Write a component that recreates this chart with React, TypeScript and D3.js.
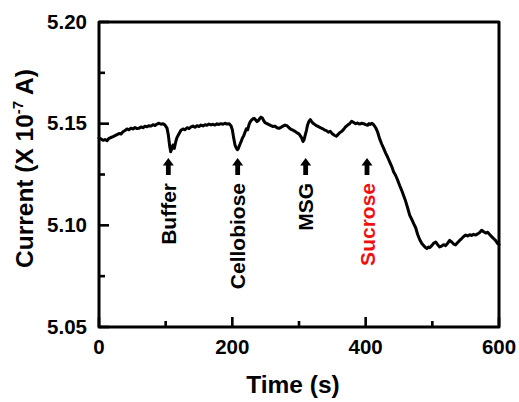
import React from "react";
import * as d3 from "d3";

// ---- Data ----
const times = [
  0, 3, 6, 9, 12, 15, 18, 21, 24, 27, 30, 33, 36, 39, 42, 45, 48, 51, 54, 57,
  60, 63, 66, 69, 72, 75, 78, 81, 84, 87, 90, 93, 96, 99, 102, 104, 106, 107.5, 109, 111,
  113, 115, 117, 120, 123, 126, 129, 132, 135, 138, 141, 144, 147, 150, 153, 156, 159, 162, 165, 168,
  171, 174, 177, 180, 183, 186, 189, 192, 195, 198, 200, 202, 204, 206, 207.5, 209, 211, 213, 215, 217,
  219, 221, 223, 225, 227, 229, 231, 233, 235, 237, 239, 241, 243, 245, 247, 249, 252, 255, 258, 261,
  264, 267, 270, 273, 276, 279, 282, 285, 288, 291, 294, 297, 300, 302, 304, 306, 307.5, 309, 311, 313,
  315, 317, 319, 321, 323, 326, 329, 332, 335, 338, 341, 344, 347, 350, 353, 356, 358, 361, 364, 367,
  370, 373, 376, 379, 382, 385, 388, 391, 394, 397, 400, 403, 405, 407, 409, 411, 413, 415, 418, 421,
  424, 427, 430, 433, 436, 439, 442, 445, 448, 451, 454, 457, 460, 463, 466, 469, 472, 475, 478, 481,
  484, 487, 490, 492, 494, 496, 499, 502, 505, 508, 511, 514, 517, 520, 523, 526, 529, 532, 535, 538,
  541, 544, 547, 550, 553, 556, 559, 562, 565, 568, 571, 574, 577, 580, 583, 586, 589, 592, 595, 598,
  600,
];

const currents = [
  5.143, 5.1425, 5.1418, 5.1422, 5.1416, 5.1428, 5.1432, 5.1436, 5.1441, 5.1446, 5.1452, 5.1449, 5.146, 5.1466, 5.1474, 5.147, 5.1478, 5.1474, 5.1481, 5.1476,
  5.1477, 5.1484, 5.148, 5.1487, 5.1485, 5.149, 5.1488, 5.1495, 5.1491, 5.1498, 5.1502, 5.1497, 5.15, 5.1493, 5.1478, 5.1445, 5.139, 5.1362, 5.1375, 5.1395,
  5.1378, 5.141, 5.1432, 5.145, 5.1468, 5.1474, 5.147, 5.148, 5.1476, 5.1484, 5.1488, 5.1482, 5.149, 5.1486, 5.1493, 5.1489, 5.1495, 5.1492, 5.1498, 5.1494,
  5.1497, 5.1493, 5.1499, 5.1496, 5.15, 5.1497, 5.1502, 5.1498, 5.15, 5.149, 5.147, 5.143, 5.1395, 5.138, 5.1372, 5.1378, 5.1395, 5.141, 5.1428, 5.144,
  5.1458, 5.1475, 5.147, 5.1495, 5.151, 5.1518, 5.1524, 5.1526, 5.1518, 5.151, 5.1515, 5.1525, 5.1532, 5.1528, 5.1515, 5.1505, 5.15, 5.1495, 5.149, 5.1486,
  5.1488, 5.148, 5.1477, 5.1482, 5.1488, 5.1493, 5.149, 5.148, 5.1472, 5.1468, 5.1462, 5.1455, 5.145, 5.144, 5.143, 5.1412, 5.142, 5.144, 5.1465, 5.1495,
  5.1512, 5.152, 5.151, 5.1502, 5.1498, 5.149, 5.1486, 5.148, 5.1476, 5.147, 5.1466, 5.1458, 5.1462, 5.145, 5.1443, 5.1438, 5.1445, 5.1455, 5.1462, 5.1472,
  5.1485, 5.1493, 5.15, 5.1512, 5.1506, 5.15, 5.1503, 5.1498, 5.1502, 5.15, 5.1495, 5.1492, 5.15, 5.1496, 5.1502, 5.1498, 5.149, 5.148, 5.1458, 5.1425,
  5.14, 5.1378, 5.1355, 5.1335, 5.1312, 5.129, 5.1262, 5.1245, 5.1222, 5.1196, 5.1172, 5.1145, 5.1118, 5.1085, 5.105, 5.103, 5.1008, 5.0988, 5.0955, 5.093,
  5.0912, 5.09, 5.089, 5.0886, 5.0893, 5.089, 5.09, 5.0912, 5.0918, 5.0905, 5.0894, 5.0898, 5.0905, 5.09, 5.0912, 5.0926, 5.0918, 5.0908, 5.0904, 5.0915,
  5.0926, 5.0935, 5.0945, 5.0952, 5.0948, 5.0954, 5.095, 5.0956, 5.0952, 5.0958, 5.0965, 5.0976, 5.0968, 5.0962, 5.0966, 5.0955, 5.0944, 5.0935, 5.0925, 5.091,
  5.0905,
];

const xMajorTicks = [0, 200, 400, 600];
const xMinorTicks = [100, 300, 500];
const yMajorTicks = [5.05, 5.1, 5.15, 5.2];
const yMinorTicks = [5.075, 5.125, 5.175];

const annotationLabels = ["Buffer", "Cellobiose", "MSG", "Sucrose"];
const annotationTimes = [104, 208, 310, 402];
const highlightedLabel = "Sucrose";

const xTitle = "Time (s)";
const yTitleMain = "Current (X 10";
const yTitleSup = "-7";
const yTitleEnd = " A)";

// ---- Layout ----
const W = 519;
const H = 402;
const left = 99;
const right = 499;
const top = 22;
const bottom = 327;
const FONT = "'Liberation Sans', Arial, Helvetica, sans-serif";

export default function App() {
  const x = d3.scaleLinear().domain([0, 600]).range([left, right]);
  const y = d3.scaleLinear().domain([5.05, 5.2]).range([bottom, top]);

  const points: [number, number][] = times.map((t, i) => [t, currents[i]]);
  const line = d3
    .line<[number, number]>()
    .x((d) => x(d[0]))
    .y((d) => y(d[1]))
    .curve(d3.curveLinear);

  const arrowTop = 158;
  const arrowNeck = 165.5;
  const arrowBottom = 175;
  const labelTop = 183;

  return (
    <svg
      width={W}
      height={H}
      style={{ position: "absolute", left: 0, top: 0, background: "#fff" }}
      fontFamily={FONT}
      fontWeight="bold"
    >
      <rect x={0} y={0} width={W} height={H} fill="#fff" />

      {/* data line */}
      <path
        d={line(points) || ""}
        fill="none"
        stroke="#000"
        strokeWidth={3}
        strokeLinejoin="round"
        strokeLinecap="round"
      />

      {/* ticks */}
      {xMajorTicks.map((t) => (
        <line key={"xM" + t} x1={x(t)} x2={x(t)} y1={bottom} y2={bottom - 10} stroke="#000" strokeWidth={2.6} />
      ))}
      {xMinorTicks.map((t) => (
        <line key={"xm" + t} x1={x(t)} x2={x(t)} y1={bottom} y2={bottom - 6} stroke="#000" strokeWidth={2.6} />
      ))}
      {yMajorTicks.map((t) => (
        <line key={"yM" + t} x1={left} x2={left + 10} y1={y(t)} y2={y(t)} stroke="#000" strokeWidth={2.6} />
      ))}
      {yMinorTicks.map((t) => (
        <line key={"ym" + t} x1={left} x2={left + 6} y1={y(t)} y2={y(t)} stroke="#000" strokeWidth={2.6} />
      ))}

      {/* frame */}
      <rect
        x={left}
        y={top}
        width={right - left}
        height={bottom - top}
        fill="none"
        stroke="#000"
        strokeWidth={3}
        strokeLinejoin="round"
      />

      {/* tick labels */}
      {xMajorTicks.map((t) => (
        <text key={"xl" + t} x={x(t)} y={bottom + 27} textAnchor="middle" fontSize={20.5} fill="#000">
          {t}
        </text>
      ))}
      {yMajorTicks.map((t) => (
        <text key={"yl" + t} x={87} y={y(t) + 6.5} textAnchor="end" fontSize={20.5} fill="#000">
          {d3.format(".2f")(t)}
        </text>
      ))}

      {/* axis titles */}
      <text x={293} y={393} textAnchor="middle" fontSize={24.5} fill="#000">
        {xTitle}
      </text>
      <text
        transform={`translate(33, ${(top + bottom) / 2 - 6}) rotate(-90)`}
        textAnchor="middle"
        fontSize={24.5}
        fill="#000"
      >
        {yTitleMain}
        <tspan fontSize={15} dy={-10}>
          {yTitleSup}
        </tspan>
        <tspan dy={10}>{yTitleEnd}</tspan>
      </text>

      {/* annotations */}
      {annotationLabels.map((label, i) => {
        const ax = x(annotationTimes[i]);
        const color = label === highlightedLabel ? "#f01010" : "#000";
        const arrowPath = `M${ax},${arrowTop} L${ax + 5.5},${arrowNeck} L${ax + 2.4},${arrowNeck} L${ax + 2.4},${arrowBottom} L${ax - 2.4},${arrowBottom} L${ax - 2.4},${arrowNeck} L${ax - 5.5},${arrowNeck} Z`;
        return (
          <g key={label}>
            <path d={arrowPath} fill="#000" />
            <text
              transform={`translate(${ax + 7.5}, ${labelTop}) rotate(-90)`}
              textAnchor="end"
              fontSize={21}
              fill={color}
            >
              {label}
            </text>
          </g>
        );
      })}
    </svg>
  );
}
